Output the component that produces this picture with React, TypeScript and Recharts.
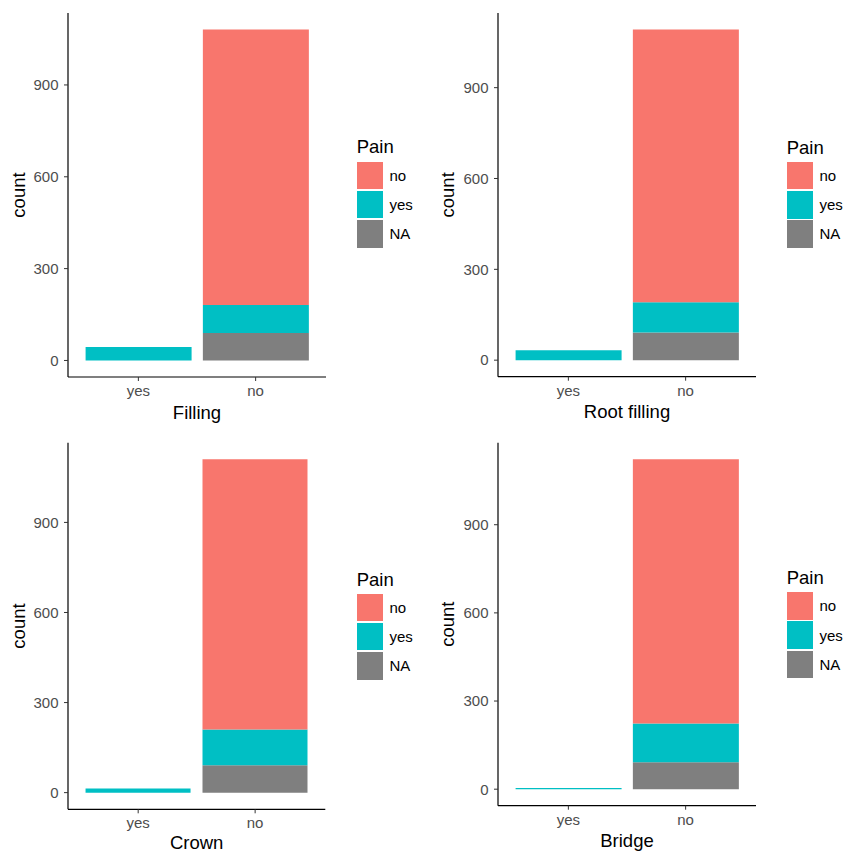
import React from 'react';
import { BarChart, Bar, XAxis, YAxis, Legend, Label } from 'recharts';

// x categories (was the treatment done?) and the Pain levels as the legend lists them
const categories = ['yes', 'no'];
const treatments = ['Filling', 'Root filling', 'Crown', 'Bridge'];
const painOrder = ['no', 'yes', 'NA'];
const yTicks = [0, 300, 600, 900];

// counts per category [yes, no]
const fillingNA = [0, 90];
const fillingYes = [44, 91];
const fillingNo = [0, 900];

const rootNA = [0, 91];
const rootYes = [33, 100];
const rootNo = [0, 901];

const crownNA = [0, 91];
const crownYes = [14, 119];
const crownNo = [0, 900];

const bridgeNA = [0, 92];
const bridgeYes = [4, 132];
const bridgeNo = [0, 899];

const seriesByTreatment = [
  [fillingNA, fillingYes, fillingNo],
  [rootNA, rootYes, rootNo],
  [crownNA, crownYes, crownNo],
  [bridgeNA, bridgeYes, bridgeNo],
];

const COLORS = { no: '#F8766D', yes: '#00BFC4', NA: '#7F7F7F' };
const FONT = '"Liberation Sans", Arial, Helvetica, sans-serif';

// where each ggplot-ish panel sits on the page
const panelBoxes = [
  { left: 0, top: 0, width: 420, height: 430, plotLeft: 68, plotRight: 326, plotTop: 13, plotBottom: 377, legendLeft: 356.7, legendTop: 136.4 },
  { left: 420, top: 0, width: 423, height: 430, plotLeft: 78, plotRight: 336, plotTop: 13, plotBottom: 376.7, legendLeft: 366.7, legendTop: 136.7 },
  { left: 0, top: 430, width: 420, height: 422, plotLeft: 68, plotRight: 325.3, plotTop: 12.7, plotBottom: 379.3, legendLeft: 356.7, legendTop: 138.5 },
  { left: 420, top: 430, width: 423, height: 422, plotLeft: 78, plotRight: 336, plotTop: 12.7, plotBottom: 375.7, legendLeft: 366.7, legendTop: 137 },
];

const PainLegend = (props: any) => {
  const payload = props.payload || [];
  const items = painOrder
    .map((name) => payload.find((p: any) => p.value === name))
    .filter(Boolean);
  return (
    <div style={{ fontFamily: FONT, color: '#000' }}>
      <div style={{ fontSize: 18.5, lineHeight: '21px', height: 25.3 }}>Pain</div>
      {items.map((entry: any) => (
        <div key={entry.value} style={{ display: 'flex', alignItems: 'center', height: 29.2 }}>
          <div style={{ width: 26.7, height: 27.5, background: entry.color, alignSelf: 'flex-start' }} />
          <span style={{ marginLeft: 6, fontSize: 15, marginTop: -2 }}>{entry.value}</span>
        </div>
      ))}
    </div>
  );
};

const Panel = ({ index }: { index: number }) => {
  const box = panelBoxes[index];
  const [naVals, yesVals, noVals] = seriesByTreatment[index];
  const data = categories.map((c, i) => ({ cat: c, NA: naVals[i], yes: yesVals[i], no: noVals[i] }));
  const maxTotal = Math.max(...data.map((d) => d.NA + d.yes + d.no));
  const plotW = box.plotRight - box.plotLeft;
  const pad = (plotW * (1 - 2 / 2.2)) / 2;
  const yAxisW = 60;
  const xAxisH = 40;
  const cx = (box.plotLeft + box.plotRight) / 2;
  const cy = (box.plotTop + box.plotBottom) / 2;
  const yLabelX = box.plotLeft - 43.5;
  // keep the x title inside the page at the bottom edge
  const xLabelY = Math.min(box.plotBottom + 41.5, box.height - 3);

  return (
    <div style={{ position: 'absolute', left: box.left, top: box.top, width: box.width, height: box.height }}>
      <BarChart
        width={box.width}
        height={box.height}
        data={data}
        barCategoryGap="5%"
        margin={{
          top: box.plotTop,
          right: box.width - box.plotRight,
          left: box.plotLeft - yAxisW,
          bottom: box.height - box.plotBottom - xAxisH,
        }}
      >
        <XAxis
          dataKey="cat"
          height={xAxisH}
          padding={{ left: pad, right: pad }}
          axisLine={{ stroke: '#000', strokeWidth: 1.2 }}
          tickLine={{ stroke: '#333' }}
          tickSize={4}
          tickMargin={4.5}
          tick={{ fill: '#4D4D4D', fontSize: 15, fontFamily: FONT }}
        >
          <Label
            content={() => (
              <text x={cx} y={xLabelY} textAnchor="middle" fontSize={18.5} fontFamily={FONT} fill="#000">
                {treatments[index]}
              </text>
            )}
          />
        </XAxis>
        <YAxis
          type="number"
          width={yAxisW}
          domain={[-0.05 * maxTotal, 1.05 * maxTotal]}
          allowDataOverflow
          ticks={yTicks}
          axisLine={{ stroke: '#000', strokeWidth: 1.2 }}
          tickLine={{ stroke: '#333' }}
          tickSize={4}
          tickMargin={5.5}
          tick={{ fill: '#4D4D4D', fontSize: 15, fontFamily: FONT }}
        >
          <Label
            content={() => (
              <text
                x={yLabelX}
                y={cy}
                transform={`rotate(-90 ${yLabelX} ${cy})`}
                textAnchor="middle"
                fontSize={18.5}
                fontFamily={FONT}
                fill="#000"
              >
                count
              </text>
            )}
          />
        </YAxis>
        <Legend
          layout="vertical"
          align="center"
          verticalAlign="middle"
          content={<PainLegend />}
          wrapperStyle={{ left: box.legendLeft, top: box.legendTop, width: 'auto' }}
        />
        <Bar dataKey="NA" name="NA" stackId="pain" fill={COLORS.NA} isAnimationActive={false} />
        <Bar dataKey="yes" name="yes" stackId="pain" fill={COLORS.yes} isAnimationActive={false} />
        <Bar dataKey="no" name="no" stackId="pain" fill={COLORS.no} isAnimationActive={false} />
      </BarChart>
    </div>
  );
}

export default function App() {
  return (
    <div style={{ position: 'absolute', left: 0, top: 0, width: 843, height: 852, background: '#fff', overflow: 'hidden' }}>
      {treatments.map((t, i) => (
        <Panel key={t} index={i} />
      ))}
    </div>
  );
}
